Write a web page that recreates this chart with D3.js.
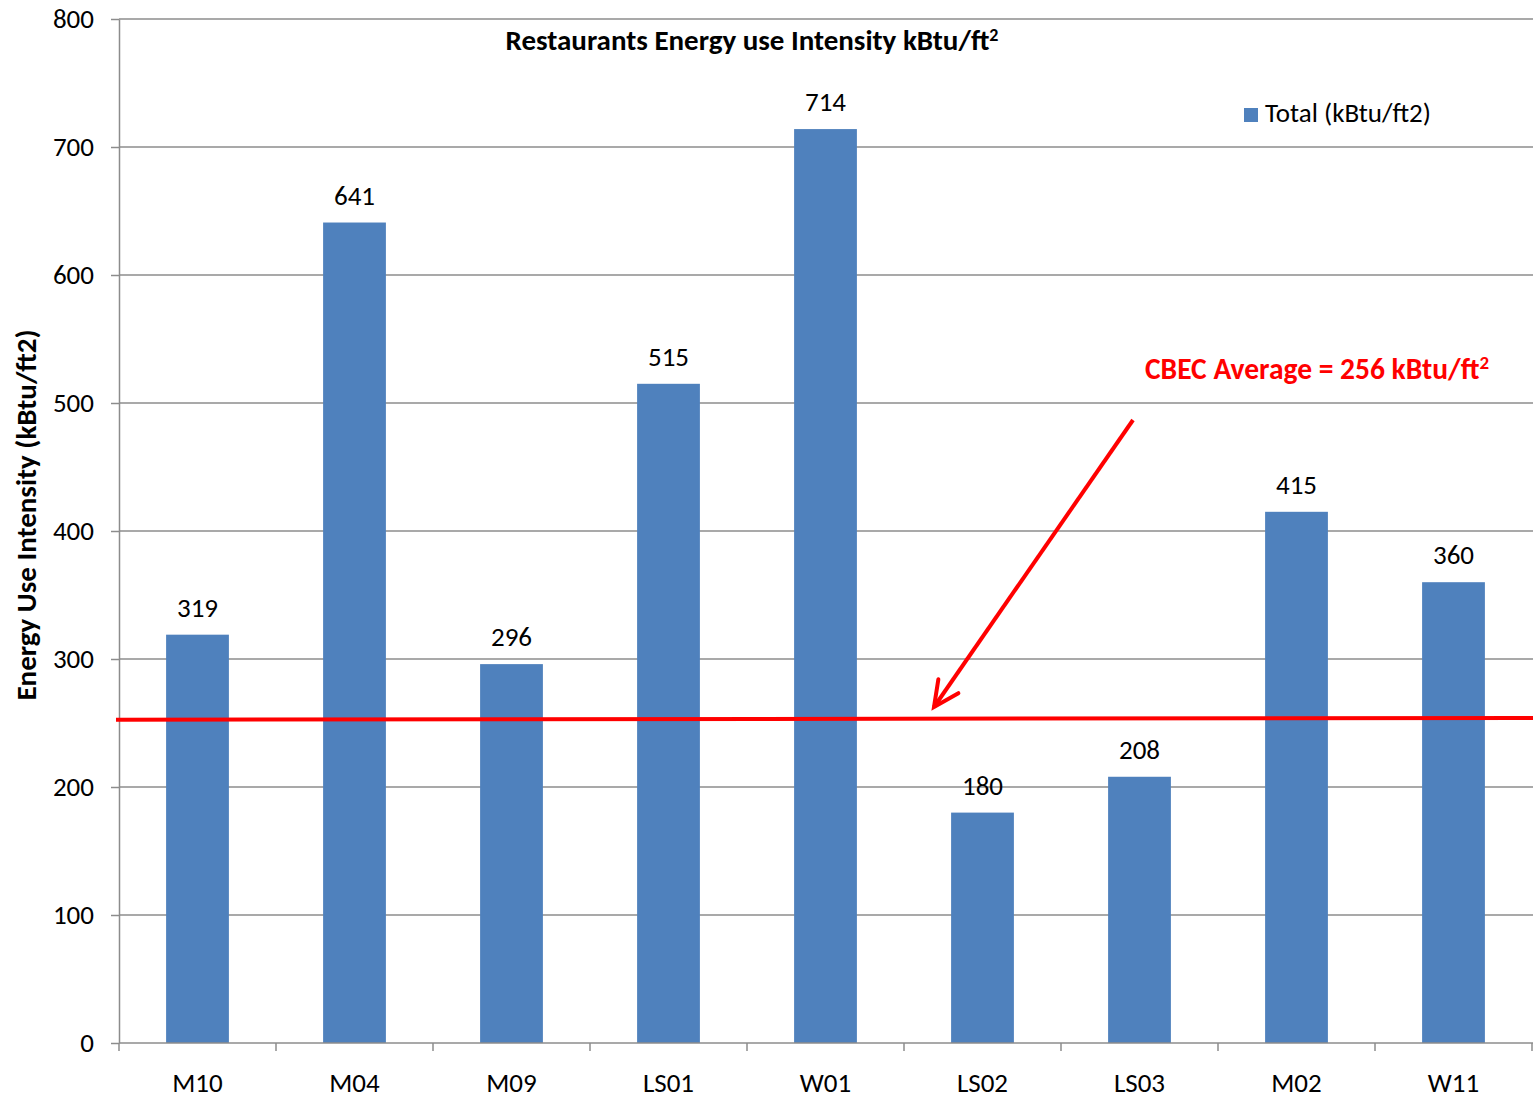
<!DOCTYPE html>
<html>
<head>
<meta charset="utf-8">
<script src="https://cdn.jsdelivr.net/npm/d3@7"></script>
<style>
  body { margin: 0; background: #fff; }
  svg { display: block; font-family: Carlito, Calibri, Lato, "Open Sans", sans-serif; }
</style>
</head>
<body>
<svg id="chart" width="1533" height="1098"></svg>
<script>
const sites = ["M10", "M04", "M09", "LS01", "W01", "LS02", "LS03", "M02", "W11"];
const totals = [319, 641, 296, 515, 714, 180, 208, 415, 360];
const yTicks = [0, 100, 200, 300, 400, 500, 600, 700, 800];
// the drawn average line runs a touch uphill in the source
const cbecLine = [252.5, 254];

const svg = d3.select("#chart");
const plotLeft = 119, plotRight = 1532, plotTop = 19, plotBottom = 1043;

const x = d3.scaleBand().domain(sites).range([plotLeft, plotRight]).paddingInner(0.6).paddingOuter(0.3);
const y = d3.scaleLinear().domain([0, 800]).range([plotBottom, plotTop]);

// gridlines
svg.append("g")
  .selectAll("line")
  .data(yTicks.slice(1))
  .join("line")
  .attr("x1", plotLeft).attr("x2", 1533)
  .attr("y1", (d) => y(d)).attr("y2", (d) => y(d))
  .attr("stroke", "#8c8c8c")
  .attr("stroke-width", 1.5);

// y axis
const yAxis = svg.append("g")
  .attr("transform", `translate(${plotLeft},0)`)
  .call(d3.axisLeft(y).tickValues(yTicks).tickSize(8).tickPadding(17).tickSizeOuter(0));
yAxis.attr("font-family", null).attr("font-size", null);
yAxis.select(".domain").attr("stroke", "#8c8c8c").attr("stroke-width", 1.5);
yAxis.selectAll(".tick line").attr("stroke", "#8c8c8c").attr("stroke-width", 1.5);
yAxis.selectAll(".tick text").attr("font-size", 27).attr("fill", "#000");

// bars
svg.append("g")
  .selectAll("rect")
  .data(sites)
  .join("rect")
  .attr("x", (d) => x(d))
  .attr("width", x.bandwidth())
  .attr("y", (d, i) => y(totals[i]))
  .attr("height", (d, i) => plotBottom - y(totals[i]))
  .attr("fill", "#4F81BD");

// x axis
const xTickPos = d3.range(sites.length + 1).map((i) => plotLeft + i * (plotRight - plotLeft) / sites.length);
svg.append("line")
  .attr("x1", plotLeft).attr("x2", 1533)
  .attr("y1", plotBottom).attr("y2", plotBottom)
  .attr("stroke", "#8c8c8c").attr("stroke-width", 1.5);
svg.append("g")
  .selectAll("line")
  .data(xTickPos)
  .join("line")
  .attr("x1", (d) => d).attr("x2", (d) => d)
  .attr("y1", plotBottom).attr("y2", plotBottom + 8)
  .attr("stroke", "#8c8c8c").attr("stroke-width", 1.5);
svg.append("g")
  .selectAll("text")
  .data(sites)
  .join("text")
  .attr("x", (d) => x(d) + x.bandwidth() / 2)
  .attr("y", 1092)
  .attr("text-anchor", "middle")
  .attr("font-size", 27)
  .text((d) => d);

// value labels
svg.append("g")
  .selectAll("text")
  .data(sites)
  .join("text")
  .attr("x", (d) => x(d) + x.bandwidth() / 2)
  .attr("y", (d, i) => y(totals[i]) - 18)
  .attr("text-anchor", "middle")
  .attr("font-size", 27)
  .text((d, i) => totals[i]);

// title
const title = svg.append("text")
  .attr("x", 752).attr("y", 50)
  .attr("text-anchor", "middle")
  .attr("font-size", 29).attr("font-weight", "bold")
  .text("Restaurants Energy use Intensity kBtu/ft");
title.append("tspan").attr("font-size", 18).attr("dy", -9).text("2");

// y axis title
svg.append("text")
  .attr("transform", "translate(36,515) rotate(-90)")
  .attr("text-anchor", "middle")
  .attr("font-size", 29).attr("font-weight", "bold")
  .text("Energy Use Intensity (kBtu/ft2)");

// legend
svg.append("rect").attr("x", 1244).attr("y", 108).attr("width", 14).attr("height", 14).attr("fill", "#4F81BD");
svg.append("text").attr("x", 1265).attr("y", 122).attr("font-size", 27).text("Total (kBtu/ft2)");

// CBEC average line
svg.append("line")
  .attr("x1", 116).attr("x2", 1533)
  .attr("y1", y(cbecLine[0])).attr("y2", y(cbecLine[1]))
  .attr("stroke", "#ff0000").attr("stroke-width", 4);

// annotation
const note = svg.append("text")
  .attr("x", 1145).attr("y", 379)
  .attr("font-size", 29.5).attr("font-weight", "bold")
  .attr("fill", "#ff0000")
  .text("CBEC Average = 256 kBtu/ft");
note.append("tspan").attr("font-size", 19).attr("dy", -10).text("2");

const ax1 = 1133, ay1 = 420, ax2 = 934, ay2 = 707;
const ang = Math.atan2(ay2 - ay1, ax2 - ax1);
const head = 28, spread = 0.45;
svg.append("line")
  .attr("x1", ax1).attr("y1", ay1).attr("x2", ax2).attr("y2", ay2)
  .attr("stroke", "#ff0000").attr("stroke-width", 4);
svg.append("path")
  .attr("d", `M ${ax2 - head * Math.cos(ang - spread)} ${ay2 - head * Math.sin(ang - spread)} L ${ax2} ${ay2} L ${ax2 - head * Math.cos(ang + spread)} ${ay2 - head * Math.sin(ang + spread)}`)
  .attr("fill", "none")
  .attr("stroke", "#ff0000").attr("stroke-width", 4)
  .attr("stroke-linejoin", "miter").attr("stroke-linecap", "round");
</script>
</body>
</html>
